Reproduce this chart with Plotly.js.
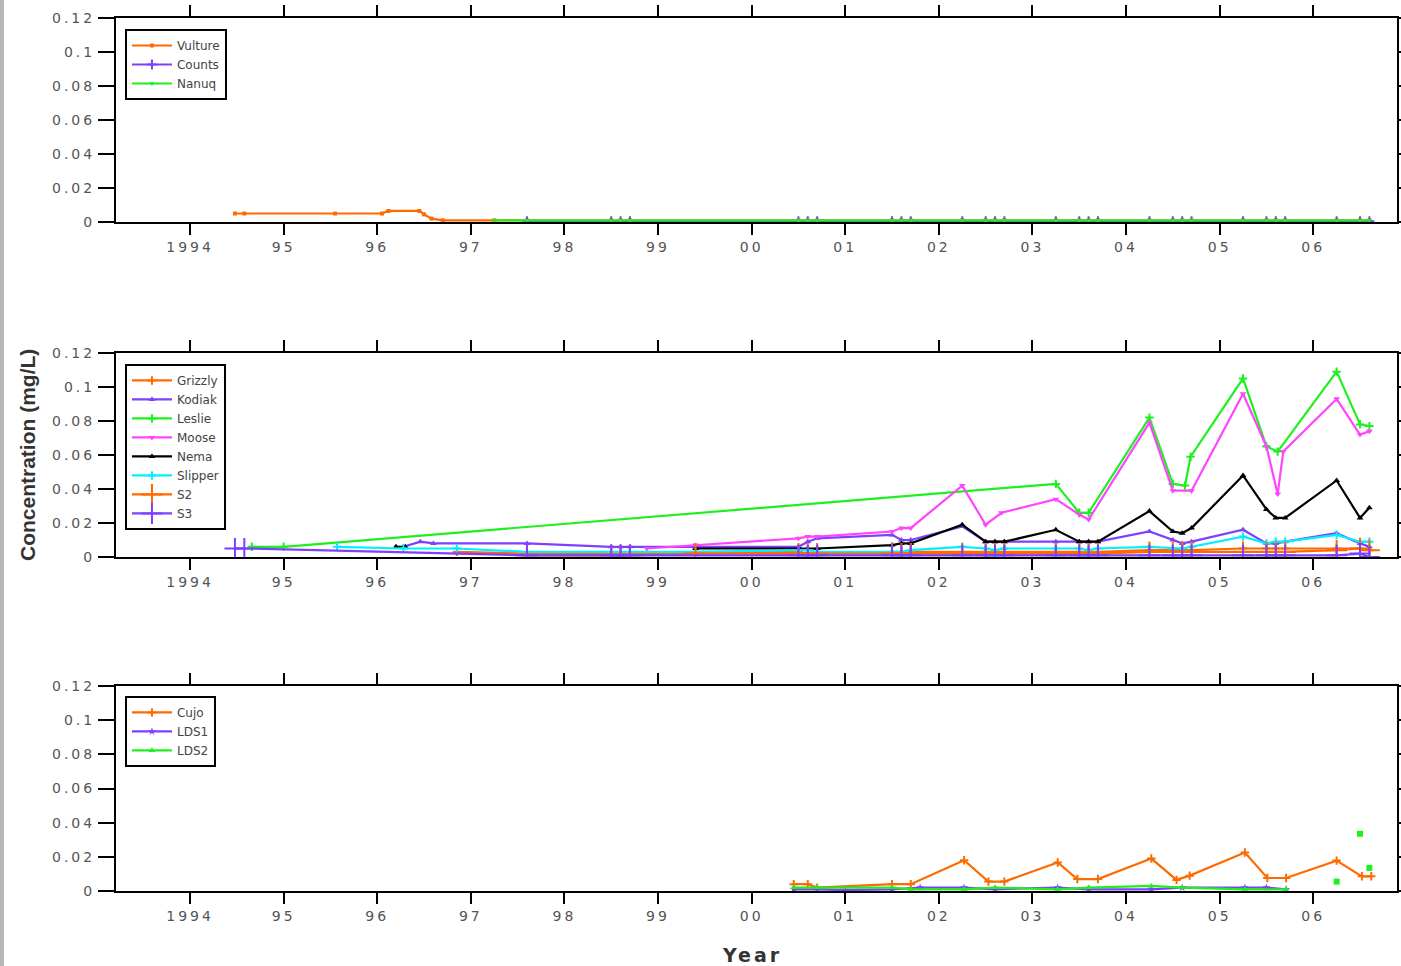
<!DOCTYPE html>
<html>
<head>
<meta charset="utf-8">
<script src="https://cdn.plot.ly/plotly-3.0.1.min.js"></script>
<style>
  html, body { margin: 0; padding: 0; background: #ffffff; }
  #bar { position: absolute; left: 0; top: 0; width: 4px; height: 966px; background: #b8b8b8; z-index: 5; }
  #chart { position: absolute; left: 0; top: 0; width: 1401px; height: 966px; }
  #chart .xtick text, #chart .x2tick text, #chart .x3tick text { letter-spacing: 3px; }
  #chart .ytick text, #chart .y2tick text, #chart .y3tick text { letter-spacing: 3px; }
  #chart .annotation[data-index="1"] text { letter-spacing: 3px; }
</style>
</head>
<body>
<div id="bar"></div>
<div id="chart"></div>
<script>
// ---------- axis ticks ----------
const yearTickVals = [1994, 1995, 1996, 1997, 1998, 1999, 2000, 2001, 2002, 2003, 2004, 2005, 2006];
const yearTickText = ["1994", "95", "96", "97", "98", "99", "00", "01", "02", "03", "04", "05", "06"];
const concTickVals = [0, 0.02, 0.04, 0.06, 0.08, 0.1, 0.12];
const concTickText = ["0", "0.02", "0.04", "0.06", "0.08", "0.1", "0.12"];

// ---------- panel 1 ----------
const vultureX = [1994.48, 1994.58, 1995.55, 1996.05, 1996.12, 1996.45, 1996.5, 1996.58, 1996.7,
  1997.25, 1997.6, 1998.5, 1998.6, 1998.7, 2000.5, 2000.6, 2000.7, 2001.5, 2001.6, 2001.7,
  2002.25, 2002.5, 2002.6, 2002.7, 2003.25, 2003.5, 2003.6, 2003.7, 2004.25, 2004.5, 2004.6, 2004.7,
  2005.25, 2005.5, 2005.6, 2005.7, 2006.25, 2006.5, 2006.6];
const vultureY = [0.005, 0.005, 0.005, 0.005, 0.0065, 0.0065, 0.0045, 0.002, 0.001,
  0.001, 0.001, 0.001, 0.001, 0.001, 0.001, 0.001, 0.001, 0.001, 0.001, 0.001,
  0.001, 0.001, 0.001, 0.001, 0.001, 0.001, 0.001, 0.001, 0.001, 0.001, 0.001, 0.001,
  0.001, 0.001, 0.001, 0.001, 0.001, 0.001, 0.001];
const countsX = [1997.6, 1998.5, 1998.6, 1998.7, 2000.5, 2000.6, 2000.7, 2001.5, 2001.6, 2001.7,
  2002.25, 2002.5, 2002.6, 2002.7, 2003.25, 2003.5, 2003.6, 2003.7, 2004.25, 2004.5, 2004.6, 2004.7,
  2005.25, 2005.5, 2005.6, 2005.7, 2006.25, 2006.5, 2006.6];
const countsY = [0.0005, 0.0005, 0.0005, 0.0005, 0.0005, 0.0005, 0.0005, 0.0005, 0.0005, 0.0005,
  0.0005, 0.0005, 0.0005, 0.0005, 0.0005, 0.0005, 0.0005, 0.0005, 0.0005, 0.0005, 0.0005, 0.0005,
  0.0005, 0.0005, 0.0005, 0.0005, 0.0005, 0.0005, 0.0005];
const nanuqX = [1997.25, 1997.6, 1998.5, 1998.6, 1998.7, 2000.5, 2000.6, 2000.7, 2001.5, 2001.6, 2001.7,
  2002.25, 2002.5, 2002.6, 2002.7, 2003.25, 2003.5, 2003.6, 2003.7, 2004.25, 2004.5, 2004.6, 2004.7,
  2005.25, 2005.5, 2005.6, 2005.7, 2006.25, 2006.5, 2006.6];
const nanuqY = [0.001, 0.001, 0.001, 0.001, 0.001, 0.001, 0.001, 0.001, 0.001, 0.001, 0.001,
  0.001, 0.001, 0.001, 0.001, 0.001, 0.001, 0.001, 0.001, 0.001, 0.001, 0.001, 0.001,
  0.001, 0.001, 0.001, 0.001, 0.001, 0.001, 0.001];

// ---------- panel 2 ----------
const grizzlyX = [1996.85, 1997.6, 1998.5, 1998.6, 1998.7, 1999.4, 2000.5, 2000.6, 2000.7, 2001.5, 2001.6, 2001.7,
  2002.25, 2002.5, 2002.6, 2002.7, 2003.25, 2003.5, 2003.6, 2003.7, 2004.25, 2004.5, 2004.6, 2004.7,
  2005.25, 2005.5, 2005.6, 2005.7, 2006.25, 2006.5, 2006.6];
const grizzlyY = [0.003, 0.002, 0.002, 0.002, 0.002, 0.003, 0.003, 0.002, 0.002, 0.003, 0.003, 0.003,
  0.003, 0.003, 0.003, 0.003, 0.003, 0.003, 0.003, 0.003, 0.004, 0.004, 0.004, 0.004,
  0.005, 0.005, 0.005, 0.005, 0.005, 0.005, 0.004];
const kodiakX = [1996.28, 1996.46, 1996.6, 1997.6, 1998.5, 1998.6, 1998.7, 1999.4, 2000.5, 2000.6, 2000.7,
  2001.5, 2001.6, 2001.7, 2002.25, 2002.5, 2002.6, 2002.7, 2003.25, 2003.5, 2003.6, 2003.7,
  2004.25, 2004.5, 2004.6, 2004.7, 2005.25, 2005.5, 2005.6, 2005.7, 2006.25, 2006.5, 2006.6];
const kodiakY = [0.006, 0.009, 0.008, 0.008, 0.006, 0.006, 0.006, 0.006, 0.006, 0.009, 0.011,
  0.013, 0.010, 0.010, 0.018, 0.009, 0.009, 0.009, 0.009, 0.009, 0.009, 0.009,
  0.015, 0.010, 0.008, 0.009, 0.016, 0.008, 0.008, 0.009, 0.014, 0.008, 0.006];
const leslieX = [1994.66, 1995.0, 2003.25, 2003.5, 2003.6, 2004.25, 2004.5, 2004.63, 2004.69,
  2005.25, 2005.5, 2005.62, 2006.25, 2006.5, 2006.6];
const leslieY = [0.006, 0.006, 0.043, 0.026, 0.026, 0.082, 0.043, 0.042, 0.059,
  0.105, 0.065, 0.062, 0.109, 0.078, 0.077];
const mooseX = [1998.88, 1999.4, 2000.5, 2000.6, 2000.7, 2001.5, 2001.6, 2001.7, 2002.25, 2002.5, 2002.67,
  2003.25, 2003.5, 2003.6, 2004.25, 2004.5, 2004.7, 2005.25, 2005.5, 2005.62, 2005.68,
  2006.25, 2006.5, 2006.6];
const mooseY = [0.005, 0.007, 0.011, 0.012, 0.012, 0.015, 0.017, 0.017, 0.042, 0.019, 0.026,
  0.034, 0.025, 0.022, 0.079, 0.039, 0.039, 0.096, 0.065, 0.037, 0.062,
  0.093, 0.072, 0.074];
const nemaX = [1996.2, 1996.3, 1998.0, 1999.4, 2000.5, 2000.6, 2000.7, 2001.5, 2001.6, 2001.7,
  2002.25, 2002.5, 2002.6, 2002.7, 2003.25, 2003.5, 2003.6, 2003.7, 2004.25, 2004.5, 2004.6, 2004.7,
  2005.25, 2005.5, 2005.6, 2005.7, 2006.25, 2006.5, 2006.6];
const nemaY = [0.006, 0.006, null, 0.005, 0.005, 0.005, 0.005, 0.007, 0.008, 0.008,
  0.019, 0.009, 0.009, 0.009, 0.016, 0.009, 0.009, 0.009, 0.027, 0.015, 0.014, 0.017,
  0.048, 0.028, 0.023, 0.023, 0.045, 0.023, 0.029];
const slipperX = [1995.57, 1996.28, 1996.85, 1997.6, 1998.5, 1998.6, 1998.7, 1999.4, 2000.5, 2000.6, 2000.7,
  2001.5, 2001.6, 2001.7, 2002.25, 2002.5, 2002.6, 2002.7, 2003.25, 2003.5, 2003.6, 2003.7,
  2004.25, 2004.5, 2004.6, 2004.7, 2005.25, 2005.5, 2005.6, 2005.7, 2006.25, 2006.5, 2006.6];
const slipperY = [0.006, 0.005, 0.005, 0.003, 0.003, 0.003, 0.003, 0.003, 0.004, 0.004, 0.003,
  0.003, 0.003, 0.004, 0.006, 0.005, 0.004, 0.005, 0.005, 0.005, 0.004, 0.005,
  0.006, 0.005, 0.005, 0.006, 0.012, 0.008, 0.009, 0.009, 0.013, 0.009, 0.009];
const s2X = [1997.6, 1998.5, 1998.6, 1998.7, 1999.4, 2000.5, 2000.6, 2000.7, 2001.5, 2001.6, 2001.7,
  2002.25, 2002.5, 2002.6, 2002.7, 2003.25, 2003.5, 2003.6, 2003.7, 2004.25, 2004.5, 2004.6, 2004.7,
  2005.25, 2005.5, 2005.6, 2005.7, 2006.25, 2006.5, 2006.6];
const s2Y = [0.001, 0.001, 0.001, 0.001, 0.002, 0.002, 0.002, 0.002, 0.002, 0.002, 0.002,
  0.002, 0.002, 0.002, 0.002, 0.002, 0.002, 0.002, 0.002, 0.003, 0.003, 0.003, 0.003,
  0.003, 0.003, 0.003, 0.003, 0.004, 0.005, 0.004];
const s3X = [1994.48, 1994.58, 1997.6, 1998.5, 1998.6, 1998.7, 2000.5, 2000.6, 2000.7,
  2001.5, 2001.6, 2001.7, 2002.25, 2002.5, 2002.6, 2002.7, 2003.25, 2003.5, 2003.6, 2003.7,
  2004.25, 2004.5, 2004.6, 2004.7, 2005.25, 2005.5, 2005.6, 2005.7, 2006.25, 2006.5, 2006.6];
const s3Y = [0.005, 0.005, 0.001, 0.001, 0.001, 0.001, 0.001, 0.001, 0.001,
  0.001, 0.001, 0.001, 0.001, 0.001, 0.001, 0.001, 0.001, 0.001, 0.001, 0.001,
  0.001, 0.001, 0.001, 0.001, 0.001, 0.001, 0.001, 0.001, 0.001, 0.002, 0.0];

// ---------- panel 3 ----------
const cujoX = [2000.45, 2000.6, 2000.7, 2001.5, 2001.7, 2002.27, 2002.53, 2002.7, 2003.27, 2003.48, 2003.7,
  2004.27, 2004.54, 2004.68, 2005.27, 2005.51, 2005.71, 2006.25, 2006.52, 2006.62];
const cujoY = [0.004, 0.004, 0.002, 0.004, 0.004, 0.018, 0.0055, 0.0055, 0.0167, 0.007, 0.007,
  0.019, 0.0065, 0.009, 0.0225, 0.0076, 0.0076, 0.0178, 0.0086, 0.0086];
const lds1X = [2000.45, 2000.7, 2001.0, 2001.5, 2001.8, 2002.27, 2002.6, 2003.27, 2003.6, 2004.27, 2004.6,
  2005.27, 2005.5, 2005.71];
const lds1Y = [0.001, 0.001, 0.0005, 0.001, 0.002, 0.002, 0.001, 0.002, 0.001, 0.001, 0.002,
  0.002, 0.002, 0.001];
const lds2X = [2000.45, 2000.7, 2001.5, 2001.7, 2002.27, 2002.6, 2003.27, 2003.6, 2004.27, 2004.6, 2005.27, 2005.71];
const lds2Y = [0.002, 0.002, 0.002, 0.001, 0.001, 0.002, 0.001, 0.002, 0.003, 0.002, 0.001, 0.001];
const lds2LateX = [2006.25, 2006.5, 2006.6];
const lds2LateY = [0.0055, 0.0335, 0.0135];

// ---------- styling ----------
const FONT = "DejaVu Sans, Liberation Sans, Arial, sans-serif";
const TITLEFONT = "Liberation Sans, Arial, sans-serif";
const ORANGE = "#ff6a00", PURPLE = "#7f3fff", GREEN = "#1ef01e", MAGENTA = "#ff44ff", CYAN = "#00f0ff", BLACK = "#000000";

function series(name, x, y, color, symbol, size, xa, ya, legend) {
  const isThin = symbol.indexOf("thin") >= 0;
  return {
    type: "scatter", mode: "lines+markers", name: name, x: x, y: y,
    xaxis: xa, yaxis: ya, legend: legend, connectgaps: false,
    line: { color: color, width: 2.2 },
    marker: isThin
      ? { symbol: symbol, size: size, color: color, line: { color: color, width: 2 } }
      : { symbol: symbol, size: size, color: color, line: { width: 0 } }
  };
}

const traces = [
  series("Vulture", vultureX, vultureY, ORANGE, "square", 4, "x", "y", "legend"),
  series("Counts", countsX, countsY, PURPLE, "cross-thin", 7, "x", "y", "legend"),
  series("Nanuq", nanuqX, nanuqY, GREEN, "triangle-down", 5, "x", "y", "legend"),

  series("Grizzly", grizzlyX, grizzlyY, ORANGE, "cross-thin", 6, "x2", "y2", "legend2"),
  series("Kodiak", kodiakX, kodiakY, PURPLE, "triangle-up", 6, "x2", "y2", "legend2"),
  series("Leslie", leslieX, leslieY, GREEN, "cross-thin", 6, "x2", "y2", "legend2"),
  series("Moose", mooseX, mooseY, MAGENTA, "triangle-down", 6, "x2", "y2", "legend2"),
  series("Nema", nemaX, nemaY, BLACK, "triangle-up", 6, "x2", "y2", "legend2"),
  series("Slipper", slipperX, slipperY, CYAN, "cross-thin", 6, "x2", "y2", "legend2"),
  series("S2", s2X, s2Y, ORANGE, "cross-thin", 15, "x2", "y2", "legend2"),
  series("S3", s3X, s3Y, PURPLE, "cross-thin", 15, "x2", "y2", "legend2"),

  series("Cujo", cujoX, cujoY, ORANGE, "cross-thin", 6, "x3", "y3", "legend3"),
  series("LDS1", lds1X, lds1Y, PURPLE, "star", 6, "x3", "y3", "legend3"),
  series("LDS2", lds2X, lds2Y, GREEN, "triangle-up", 6, "x3", "y3", "legend3"),
  {
    type: "scatter", mode: "markers", name: "LDS2", x: lds2LateX, y: lds2LateY,
    xaxis: "x3", yaxis: "y3", showlegend: false,
    marker: { symbol: "square", size: 6, color: GREEN }
  }
];

function xAxis(anchor) {
  return {
    anchor: anchor, range: [1993.209, 2006.895], tickmode: "array",
    tickvals: yearTickVals, ticktext: yearTickText,
    ticks: "outside", ticklen: 11, tickwidth: 2, tickcolor: "#000",
    showline: true, linewidth: 2, linecolor: "#000", mirror: "ticks",
    showgrid: false, zeroline: false, layer: "below traces",
    tickfont: { family: FONT, size: 14, color: "#555" }
  };
}
function yAxis(anchor, lo, hi) {
  return {
    anchor: anchor, domain: [lo, hi], range: [0, 0.12], tickmode: "array",
    tickvals: concTickVals, ticktext: concTickText,
    ticks: "outside", ticklen: 16, tickwidth: 2, tickcolor: "#000",
    showline: true, linewidth: 2, linecolor: "#000", mirror: "ticks",
    showgrid: false, zeroline: false, layer: "below traces",
    tickfont: { family: FONT, size: 14, color: "#555" }
  };
}
function legendBox(yTop) {
  return {
    x: 0.007, y: yTop, xanchor: "left", yanchor: "top",
    bgcolor: "#ffffff", bordercolor: "#000", borderwidth: 2,
    font: { family: FONT, size: 12, color: "#444" },
    tracegroupgap: 0, itemwidth: 40
  };
}

const layout = {
  width: 1401, height: 966,
  margin: { l: 116, r: 4, t: 18, b: 75, pad: 0 },
  paper_bgcolor: "#ffffff", plot_bgcolor: "#ffffff",
  showlegend: true,
  xaxis: xAxis("y"), yaxis: yAxis("x", 0.7663, 1.0),
  xaxis2: xAxis("y2"), yaxis2: yAxis("x2", 0.3826, 0.6163),
  xaxis3: xAxis("y3"), yaxis3: yAxis("x3", 0.0, 0.2348),
  legend: legendBox(0.9874),
  legend2: legendBox(0.6037),
  legend3: legendBox(0.2234),
  annotations: [
    { text: "<b>Concentration (mg/L)</b>", xref: "paper", yref: "paper", x: -0.0695, y: 0.4994,
      textangle: -90, showarrow: false, xanchor: "center", yanchor: "middle",
      font: { family: TITLEFONT, size: 21, color: "#333" } },
    { text: "<b>Year</b>", xref: "paper", yref: "paper", x: 0.497, y: -0.0733,
      showarrow: false, xanchor: "center", yanchor: "middle",
      font: { family: FONT, size: 19, color: "#333" } }
  ]
};

Plotly.newPlot("chart", traces, layout, { displayModeBar: false, staticPlot: true });
</script>
</body>
</html>
